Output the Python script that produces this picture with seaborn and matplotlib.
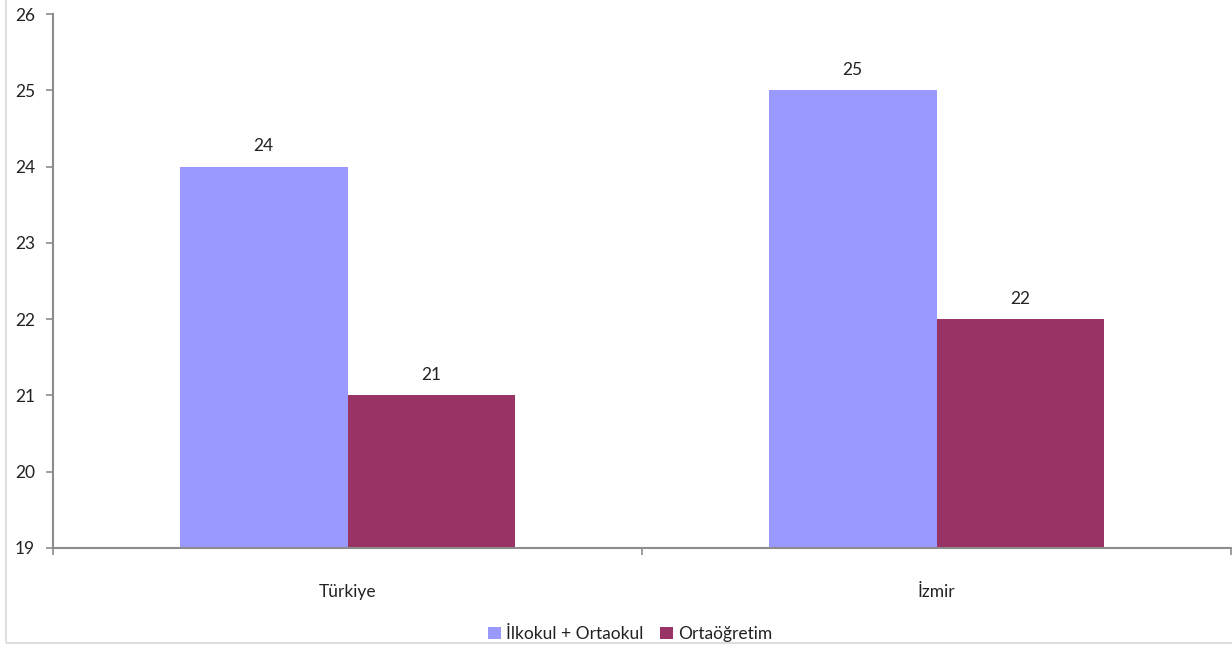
import seaborn as sns
import matplotlib.pyplot as plt
import pandas as pd
from matplotlib.patches import Rectangle

# data
places = ["Türkiye", "İzmir"]
levels = ["İlkokul + Ortaokul", "Ortaöğretim"]
ilk_orta = [24, 25]
ortaogretim = [21, 22]
y_ticks = [19, 20, 21, 22, 23, 24, 25, 26]

df = pd.DataFrame({
    "yer": places * 2,
    "seviye": [levels[0]] * 2 + [levels[1]] * 2,
    "deger": ilk_orta + ortaogretim,
})

sns.set_style("white")
plt.rcParams['font.family'] = ['Lato', 'DejaVu Sans']

fig = plt.figure(figsize=(12.32, 6.48), dpi=100)
ax = fig.add_axes([53 / 1232, 1 - 548 / 648, 1178 / 1232, 534 / 648])

# outer frame of the chart area
fig.patches.append(Rectangle((6 / 1232, 5 / 648), 1.0, 1.0, transform=fig.transFigure,
                             fill=False, edgecolor="#d9d9d9", linewidth=1.2))

sns.barplot(data=df, x="yer", y="deger", hue="seviye", order=places, hue_order=levels,
            palette=["#9999FF", "#993366"], width=0.57, gap=0, saturation=1,
            edgecolor="none", ax=ax, legend=True)

for c in ax.containers:
    ax.bar_label(c, fmt="%d", padding=9, fontsize=12.5, color="#222222")

ax.set_ylim(19, 26)
ax.set_xlim(-0.5, 1.5)
ax.set_yticks(y_ticks)
ax.set_xlabel("")
ax.set_ylabel("")

for s in ["top", "right"]:
    ax.spines[s].set_visible(False)
for s in ["left", "bottom"]:
    ax.spines[s].set_color("#8c8c8c")
    ax.spines[s].set_linewidth(1.5)

ax.tick_params(axis="y", left=True, length=5, width=1.2, color="#8c8c8c", labelsize=12.5,
               labelcolor="#222222", pad=8)
ax.tick_params(axis="x", which="major", bottom=True, length=0, labelsize=12.5,
               labelcolor="#222222", pad=26)
ax.set_xticks([-0.5, 0.5, 1.5], minor=True)
ax.tick_params(axis="x", which="minor", bottom=True, length=5, width=1.2, color="#8c8c8c")

leg = ax.legend(loc="lower center", bbox_to_anchor=(0.49, -0.205), ncol=2, frameon=False,
                fontsize=12.5, handlelength=0.7, handleheight=0.7, handletextpad=0.3,
                columnspacing=1.0)
for t in leg.get_texts():
    t.set_color("#222222")

fig.savefig("out.png", dpi=100)
